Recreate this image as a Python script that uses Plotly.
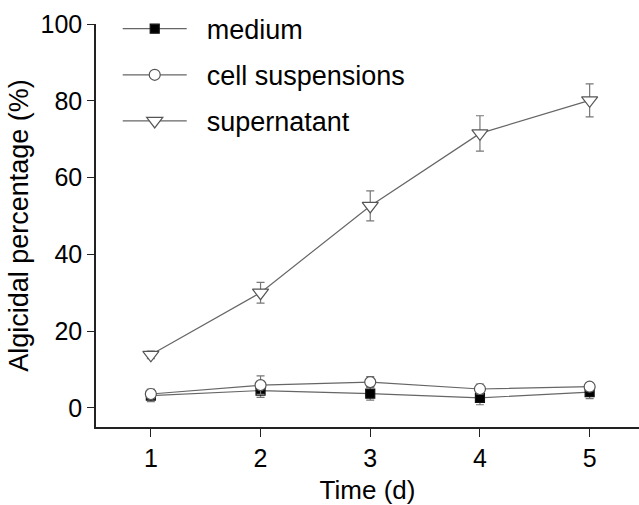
import plotly.graph_objects as go

days = [1, 2, 3, 4, 5]
medium = [3.2, 4.5, 3.7, 2.6, 4.1]
medium_err = [1.6, 1.8, 1.7, 1.8, 1.7]
cell = [3.6, 5.9, 6.7, 4.9, 5.5]
cell_err = [1.2, 2.4, 1.4, 1.3, 1.0]
supernatant = [13.8, 30.0, 52.6, 71.5, 80.1]
supernatant_err = [1.0, 2.7, 3.9, 4.6, 4.3]

line_col = "#666666"
font = "Liberation Sans, Arial, sans-serif"
pad = "\u00a0\u00a0"

fig = go.Figure()

def add(name, y, err, symbol, fill, edge, size):
    fig.add_trace(go.Scatter(
        x=days, y=y, name=pad + name, mode="lines+markers",
        line=dict(color=line_col, width=1.2),
        marker=dict(symbol=symbol, size=size, color=fill,
                    line=dict(color=edge, width=1.2)),
        error_y=dict(type="data", array=err, visible=True, color="#777777",
                     thickness=1.2, width=4),
        legendgroup=name,
    ))

add("medium", medium, medium_err, "square", "black", "#111111", 9)
add("cell suspensions", cell, cell_err, "circle", "white", "#555555", 11)
add("supernatant", supernatant, supernatant_err, "triangle-down", "white", "#555555", 14)

fig.update_layout(
    width=639, height=505,
    margin=dict(l=96, r=0, t=24, b=78),
    paper_bgcolor="white", plot_bgcolor="white",
    font=dict(family=font, size=25, color="black"),
    showlegend=True,
    legend=dict(x=0.04, y=1.048, xanchor="left", yanchor="top",
                bgcolor="rgba(0,0,0,0)", tracegroupgap=8,
                font=dict(size=27), itemwidth=64),
    xaxis=dict(range=[0.5, 5.45], tickvals=days, ticks="outside", ticklen=8,
               tickwidth=1.2, tickcolor="#222", showline=True, linecolor="#222",
               linewidth=1.5, showgrid=False, zeroline=False,
               title=dict(text="Time (d)", standoff=14, font=dict(size=26)),
               tickfont=dict(size=25)),
    yaxis=dict(range=[-5, 100], tickvals=[0, 20, 40, 60, 80, 100], ticks="outside",
               ticklen=7, tickwidth=1.2, tickcolor="#222", showline=True,
               linecolor="#222", linewidth=1.5, showgrid=False, zeroline=False,
               title=dict(text="Algicidal percentage (%)", standoff=4, font=dict(size=27)),
               tickfont=dict(size=25)),
)

fig.write_html("out.html")
